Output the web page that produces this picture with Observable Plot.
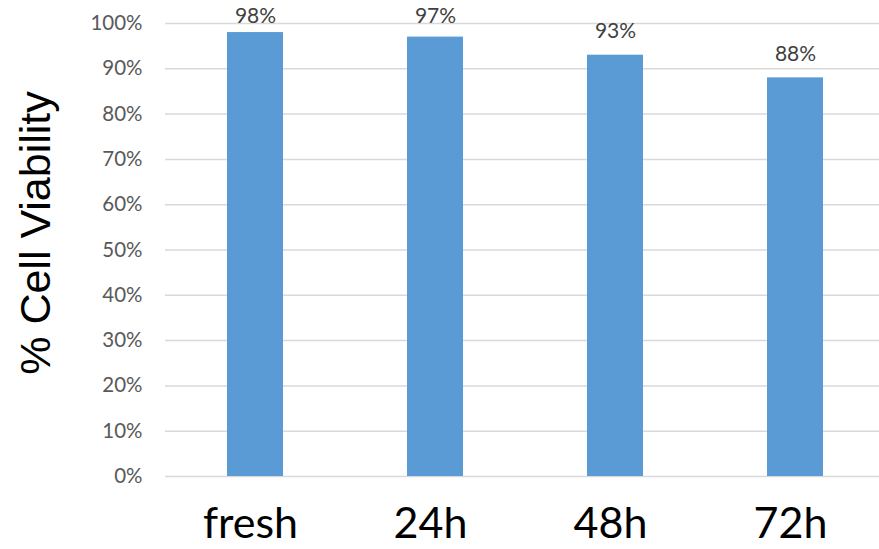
<!DOCTYPE html>
<html>
<head>
<meta charset="utf-8">
<script src="https://cdn.jsdelivr.net/npm/d3@7"></script>
<script src="https://cdn.jsdelivr.net/npm/@observablehq/plot@0.6"></script>
<style>
  html, body { margin: 0; padding: 0; background: #fff; overflow: hidden; }
  svg { display: block; }
</style>
</head>
<body>
<div id="chart"></div>
<script>
// Cell viability after storage time
const timepoints = ["fresh", "24h", "48h", "72h"];
const viability = [98, 97, 93, 88];
const yTicks = [0, 10, 20, 30, 40, 50, 60, 70, 80, 90, 100];

const rows = timepoints.map((t, i) => ({time: t, value: viability[i]}));

// value labels sit a little above each bar, kept inside the top of the frame
const labelY = d => Math.min(d.value + 4.4, 100.7);

const chart = Plot.plot({
  width: 879,
  height: 549,
  marginLeft: 165,
  marginRight: 0,
  marginTop: 23,
  marginBottom: 73,
  style: {fontFamily: "Lato, 'Open Sans', sans-serif", background: "#fff"},
  x: {domain: timepoints, range: [165, 885], paddingInner: 0.689, paddingOuter: 0.3445},
  y: {domain: [0, 100], range: [476, 23]},
  marks: [
    Plot.ruleY(yTicks, {stroke: "#d9d9d9", strokeWidth: 1.5}),
    Plot.barY(rows, {x: "time", y: "value", fill: "#5b9bd5"}),
    Plot.text(rows, {
      x: "time", y: labelY, text: d => `${d.value}%`,
      fontSize: 21, fill: "#404040", lineAnchor: "bottom", dy: 3
    }),
    Plot.axisY({
      ticks: yTicks, tickFormat: d => `${d}%`, tickSize: 0, tickPadding: 23,
      fontSize: 20.5, color: "#595959", label: null
    }),
    Plot.axisX({tickSize: 0, tickPadding: 31, dx: -5, fontSize: 43, color: "#000", label: null}),
    Plot.text(["% Cell Viability"], {
      frameAnchor: "left", rotate: -90, dx: -129, dy: -17,
      fontSize: 43, fill: "#000", fontFamily: "'Liberation Sans', Arial, sans-serif",
      textAnchor: "middle"
    })
  ]
});

document.getElementById("chart").appendChild(chart);
</script>
</body>
</html>
